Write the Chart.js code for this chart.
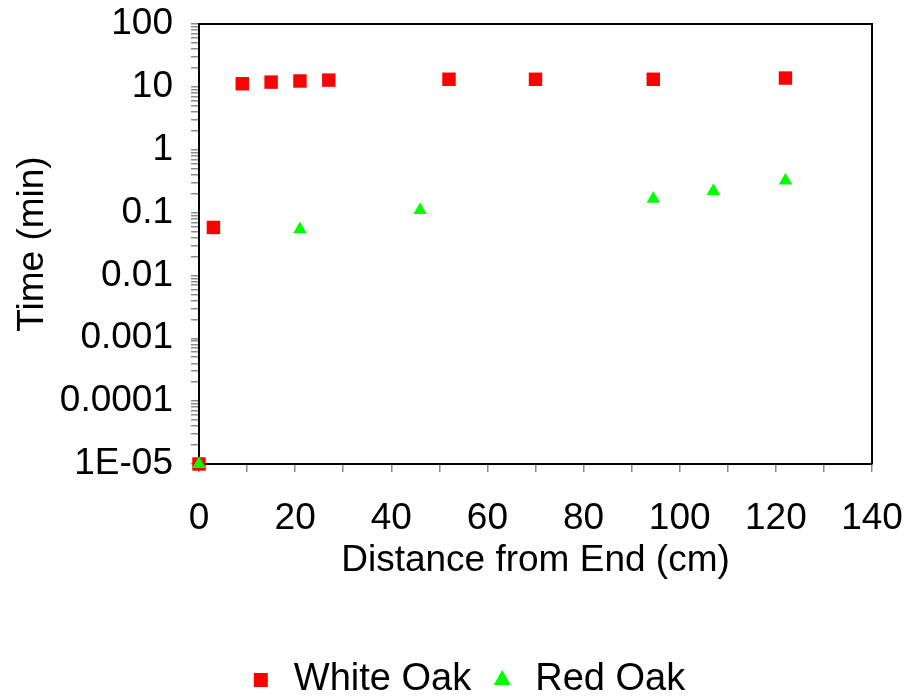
<!DOCTYPE html>
<html>
<head>
<meta charset="utf-8">
<script src="https://cdn.jsdelivr.net/npm/chart.js@4/dist/chart.umd.min.js"></script>
<style>
  html, body { margin: 0; padding: 0; background: #fff; }
  #wrap { width: 905px; height: 700px; position: relative; }
</style>
</head>
<body>
<div id="wrap"><canvas id="chart"></canvas></div>
<script>
// Drying time along the sample, two species
const whiteOakX = [0, 3, 9, 15, 21, 27, 52, 70, 94.5, 122];
const whiteOakY = [1e-5, 0.058, 11.2, 11.9, 12.4, 12.8, 13.2, 13.2, 13.2, 13.8];

const redOakX = [0, 21, 46, 94.5, 107, 122];
const redOakY = [1e-5, 0.054, 0.109, 0.166, 0.219, 0.324];

// Axis ticks
const xTickLabels = [0, 20, 40, 60, 80, 100, 120, 140];
const yDecades = [1e-5, 1e-4, 1e-3, 1e-2, 1e-1, 1, 10, 100];
const yTickLabels = ['1E-05', '0.0001', '0.001', '0.01', '0.1', '1', '10', '100'];
const yMinorSteps = [2, 3, 4, 5, 6, 7, 8, 9];

const FONT = "'Liberation Sans', Arial, sans-serif";
const TICK_GRAY = '#8a8a8a';

const toPoints = (xs, ys) => xs.map((x, i) => ({ x: x, y: ys[i] }));

// closes the plot box on top and right
const frame = {
    id: 'frame',
    beforeDatasetsDraw(chart) {
        const { ctx, chartArea: a } = chart;
        ctx.save();
        ctx.strokeStyle = '#000';
        ctx.lineWidth = 2;
        ctx.beginPath();
        ctx.moveTo(a.left, a.top);
        ctx.lineTo(a.right, a.top);
        ctx.lineTo(a.right, a.bottom);
        ctx.stroke();
        ctx.restore();
    }
};

// nudge the legend a bit right and down
const legendShift = {
    id: 'legendShift',
    afterLayout(chart) {
        const lg = chart.legend;
        lg.left += 26;
        lg.right += 26;
        lg.top += 9;
        lg.bottom += 9;
    }
};

new Chart(document.getElementById('chart'), {
    type: 'scatter',
    data: {
        datasets: [
            {
                label: 'White Oak',
                data: toPoints(whiteOakX, whiteOakY),
                order: 2,
                pointStyle: 'rect',
                pointRadius: 9.5,
                pointHoverRadius: 9.5,
                backgroundColor: '#ff0000',
                borderColor: '#ff0000',
                borderWidth: 0,
                clip: false
            },
            {
                label: 'Red Oak',
                data: toPoints(redOakX, redOakY),
                order: 1,
                pointStyle: 'triangle',
                pointRadius: 7.8,
                pointHoverRadius: 7.8,
                backgroundColor: '#00ff00',
                borderColor: '#00ff00',
                borderWidth: 0,
                clip: false
            }
        ]
    },
    options: {
        responsive: true,
        maintainAspectRatio: false,
        animation: false,
        layout: { padding: { top: 24, right: 33, left: 8, bottom: 0 } },
        plugins: {
            tooltip: { enabled: false },
            legend: {
                position: 'bottom',
                labels: {
                    usePointStyle: true,
                    boxWidth: 28,
                    boxHeight: 14,
                    padding: 17,
                    color: '#000',
                    font: { family: FONT, size: 38 },
                    sort: (a, b) => a.datasetIndex - b.datasetIndex
                }
            }
        },
        scales: {
            x: {
                type: 'linear',
                min: 0,
                max: 140,
                border: { color: '#000', width: 2 },
                grid: {
                    drawOnChartArea: false,
                    tickLength: 8,
                    color: TICK_GRAY,
                    lineWidth: 1.5
                },
                afterFit: (scale) => {
                    scale.height = 171;
                    scale.paddingRight = 0;
                    scale.paddingLeft = 0;
                },
                ticks: {
                    stepSize: 10,
                    autoSkip: false,
                    maxRotation: 0,
                    padding: 25,
                    color: '#000',
                    font: { family: FONT, size: 37 },
                    callback: (v) => xTickLabels.includes(v) ? String(v) : ''
                },
                title: {
                    display: true,
                    text: 'Distance from End (cm)',
                    color: '#000',
                    font: { family: FONT, size: 37 },
                    padding: { top: 0, bottom: 52 }
                }
            },
            y: {
                type: 'logarithmic',
                min: 1e-5,
                max: 100,
                border: { color: '#000', width: 2 },
                grid: {
                    drawOnChartArea: false,
                    tickLength: 8,
                    color: TICK_GRAY,
                    lineWidth: 1.5
                },
                afterBuildTicks: (scale) => {
                    const ticks = [];
                    yDecades.forEach((d, i) => {
                        ticks.push({ value: d, major: true });
                        if (i < yDecades.length - 1) {
                            yMinorSteps.forEach(m => ticks.push({ value: d * m, major: false }));
                        }
                    });
                    scale.ticks = ticks;
                },
                afterFit: (scale) => {
                    scale.width = 199 - 8;
                    scale.paddingTop = 0;
                    scale.paddingBottom = 0;
                },
                ticks: {
                    autoSkip: false,
                    padding: 18,
                    color: '#000',
                    font: { family: FONT, size: 37 },
                    callback: (v) => {
                        const i = yDecades.findIndex(d => Math.abs(v / d - 1) < 1e-6);
                        return i >= 0 ? yTickLabels[i] : '';
                    }
                },
                title: {
                    display: true,
                    text: 'Time (min)',
                    color: '#000',
                    font: { family: FONT, size: 37 },
                    padding: { top: 3, bottom: 0 }
                }
            }
        }
    },
    plugins: [frame, legendShift]
});
</script>
</body>
</html>
